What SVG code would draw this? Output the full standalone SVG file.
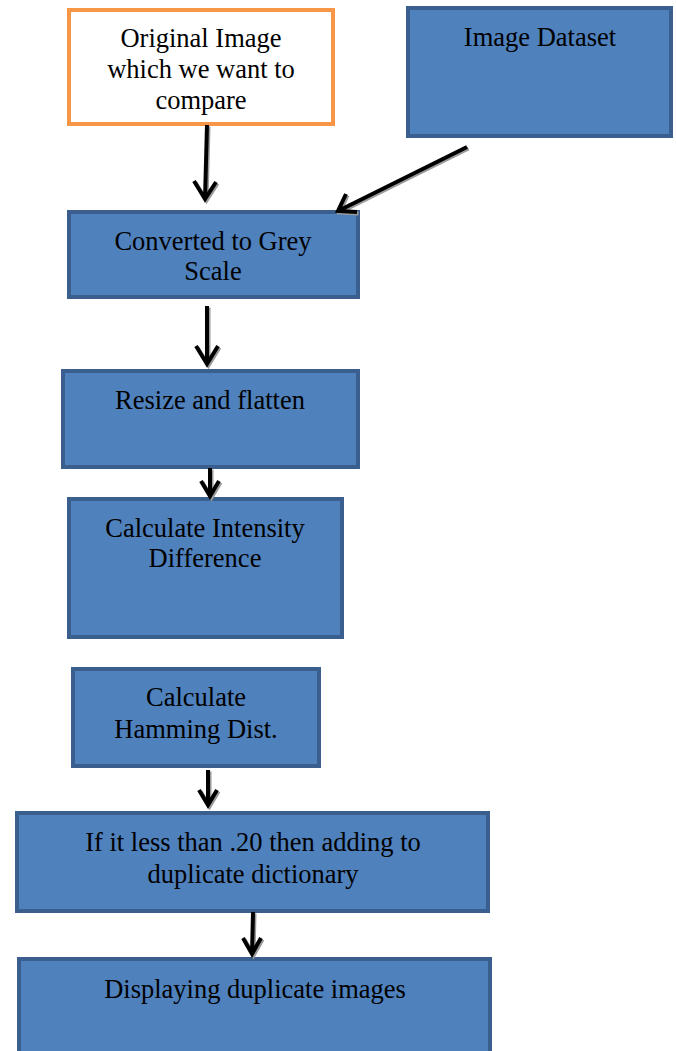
<svg xmlns="http://www.w3.org/2000/svg" width="676" height="1051" viewBox="0 0 676 1051">
<style>
.box{fill:#4F81BD;stroke:#3A5F8F;stroke-width:4}
.orig{fill:#FFFFFF;stroke:#F79646;stroke-width:4}
text{font-family:"Liberation Serif","Times New Roman",serif;font-size:26.5px;fill:#000;text-anchor:middle}
.sh{fill:none;stroke:#9a9a9a;stroke-width:4;stroke-linecap:butt}
.ar{fill:none;stroke:#000;stroke-width:4;stroke-linecap:butt}
</style>
<rect width="676" height="1051" fill="#fff"/>
<g id="n-original"><rect class="orig" x="69" y="10" width="264" height="114"/>
<text x="201" y="47">Original Image</text><text x="201" y="78">which we want to</text><text x="201" y="109">compare</text></g>
<g id="n-dataset"><rect class="box" x="408" y="8" width="263" height="128"/>
<text x="540" y="46">Image Dataset</text></g>
<g id="n-grey"><rect class="box" x="69" y="212" width="289" height="85"/>
<text x="213" y="250">Converted to Grey</text><text x="213" y="280">Scale</text></g>
<g id="n-resize"><rect class="box" x="63" y="371" width="295" height="96"/>
<text x="210" y="409">Resize and flatten</text></g>
<g id="n-intensity"><rect class="box" x="69" y="499" width="273" height="138"/>
<text x="205" y="537">Calculate Intensity</text><text x="205" y="567">Difference</text></g>
<g id="n-hamming"><rect class="box" x="73" y="669" width="246" height="97"/>
<text x="196" y="706">Calculate</text><text x="196" y="738">Hamming Dist.</text></g>
<g id="n-threshold"><rect class="box" x="17" y="813" width="471" height="98"/>
<text x="253" y="851">If it less than .20 then adding to</text><text x="253" y="883">duplicate dictionary</text></g>
<g id="n-display"><rect class="box" x="19" y="959" width="471" height="100"/>
<text x="255" y="998">Displaying duplicate images</text></g>
<g id="connectors">
<g transform="translate(1.5,1.5)">
<path class="sh" d="M207 125 L205 199 M194 181 L205 199 L216 182"/>
<path class="sh" d="M467 147 L338 211 M346 194 L338 211 L357 212"/>
<path class="sh" d="M207 306 L207 364 M196 346 L207 364 L218 346"/>
<path class="sh" d="M210 468 L210 496 M201 481 L210 496 L219 481"/>
<path class="sh" d="M208 770 L208 805 M199 790 L208 805 L217 790"/>
<path class="sh" d="M253 912 L252 954 M243 938 L252 954 L261 938"/>
</g>
<path class="ar" d="M207 125 L205 199 M194 181 L205 199 L216 182"/>
<path class="ar" d="M467 147 L338 211 M346 194 L338 211 L357 212"/>
<path class="ar" d="M207 306 L207 364 M196 346 L207 364 L218 346"/>
<path class="ar" d="M210 468 L210 496 M201 481 L210 496 L219 481"/>
<path class="ar" d="M208 770 L208 805 M199 790 L208 805 L217 790"/>
<path class="ar" d="M253 912 L252 954 M243 938 L252 954 L261 938"/>
</g>
</svg>
